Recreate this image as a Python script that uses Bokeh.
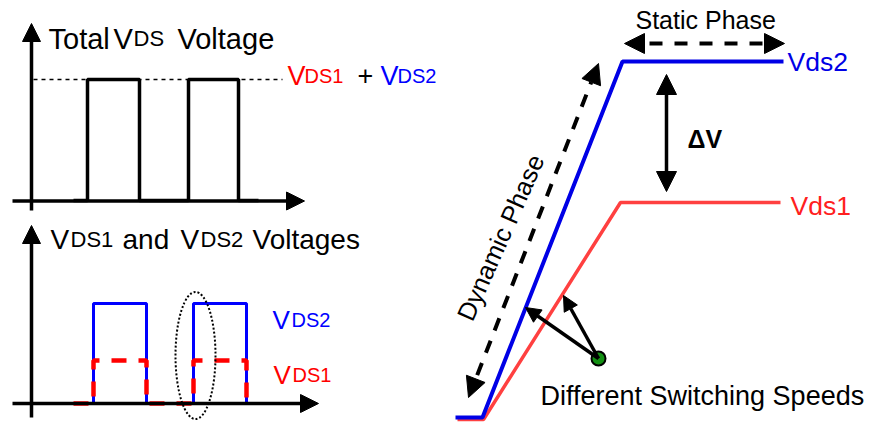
from bokeh.plotting import figure
from bokeh.models import Range1d, Arrow, NormalHead
from bokeh.core.properties import value
from bokeh.embed import file_html
from bokeh.resources import INLINE

FONT = value("Liberation Sans")

# ---------------- data (schematic coordinates) ----------------
# Panel 1: total VDS waveform
total_t = [73, 87, 87, 139, 139, 188, 188, 238, 238, 258]
total_v = [200, 200, 79, 79, 200, 200, 79, 79, 200, 200]
sum_level_t = [33, 282]
sum_level_v = [79, 79]
# Panel 2: VDS1 and VDS2 waveforms
vds2_t = [93, 93, 146, 146, 193, 193, 246, 246]
vds2_v = [403, 303, 303, 403, 403, 303, 303, 403]
vds1_t = [73, 93, 93, 146, 146, 193, 193, 246, 246]
vds1_v = [403, 403, 360, 360, 403, 403, 360, 360, 403]
# Right panel: switching transients
sw2_t = [455, 482, 622, 783]
sw2_v = [417, 417, 61, 61]
sw1_t = [457, 483, 620, 780]
sw1_v = [419, 419, 202, 202]

# axes of the two left panels: (x0, y0, x1, y1)
axes_arrows = [
    (31, 210, 31, 23),
    (12, 200.5, 304, 200.5),
    (31, 417, 31, 225),
    (12, 403, 318, 403),
]

# ---------------- figure ----------------
W, H = 874, 423
p = figure(width=W, height=H, output_backend="svg", toolbar_location=None,
           x_range=Range1d(0, W), y_range=Range1d(H, 0),
           min_border=0, min_border_left=0, min_border_right=0,
           min_border_top=0, min_border_bottom=0)
p.axis.visible = False
p.grid.visible = False
p.outline_line_color = None
p.background_fill_color = "white"


def head(size=18):
    return NormalHead(size=size, fill_color="black", line_color="black", line_width=1)


for (x0, y0, x1, y1) in axes_arrows:
    p.add_layout(Arrow(end=head(18), x_start=x0, y_start=y0, x_end=x1, y_end=y1,
                       line_width=3.5, line_color="black"))

# Panel 1
p.line(sum_level_t, sum_level_v, line_color="black", line_width=1.5, line_dash="4 4")
p.line(total_t, total_v, line_color="black", line_width=3.5)

# Panel 2
p.line(vds2_t, vds2_v, line_color="#0000FF", line_width=3)
p.line(vds1_t, vds1_v, line_color="#FF0000", line_width=4.5, line_dash="15 12")
p.ellipse(x=[195], y=[355], width=40, height=127, fill_color=None,
          line_color="black", line_width=2, line_dash="2 2")

# Right panel
p.line(sw1_t, sw1_v, line_color="#FF4040", line_width=3.5)
p.line(sw2_t, sw2_v, line_color="#0000E6", line_width=4)

# static phase double arrow
p.add_layout(Arrow(start=head(20), end=head(20), x_start=624, y_start=43, x_end=784, y_end=43,
                   line_width=4, line_color="black", line_dash="13 12"))
# dynamic phase double arrow
p.add_layout(Arrow(start=head(20), end=head(20), x_start=468, y_start=397, x_end=598, y_end=63,
                   line_width=4, line_color="black", line_dash="13 11"))
# delta V arrow
p.add_layout(Arrow(start=head(20), end=head(20), x_start=666, y_start=74, x_end=666, y_end=191,
                   line_width=3.5, line_color="black"))
# pointers from the dot
p.add_layout(Arrow(end=head(15), x_start=598, y_start=358, x_end=525, y_end=307,
                   line_width=3.5, line_color="black"))
p.add_layout(Arrow(end=head(15), x_start=598, y_start=358, x_end=563, y_end=295,
                   line_width=3.5, line_color="black"))
p.scatter(x=[598], y=[358], size=14, fill_color="#139013", line_color="black", line_width=2)

SHIFT = 8  # correction for where the alphabetic baseline lands


def txt(x, y, s, size, color="black", style="normal", **kw):
    base = kw.pop("baseline", "alphabetic")
    if base == "alphabetic":
        y = y - SHIFT
    p.text(x=[x], y=[y], text=[s], text_font=FONT, text_font_size=f"{size}px",
           text_color=color, text_baseline=base,
           text_align=kw.pop("align", "left"), text_font_style=style, **kw)


# Panel 1 title
txt(48, 46, "Total", 29)
txt(113, 46, "V", 29)
txt(133, 46, "DS", 22)
txt(177, 46, "Voltage", 29)
# sum label
txt(287, 83, "V", 27, "#FF0000")
txt(304, 83, "DS1", 20, "#FF0000")
txt(357, 83, "+", 27)
txt(380, 83, "V", 27, "#0000FF")
txt(397, 83, "DS2", 20, "#0000FF")
# Panel 2 title
txt(50, 247, "V", 28)
txt(70, 247, "DS1", 22)
txt(122, 247, "and", 28)
txt(180, 247, "V", 28)
txt(200, 247, "DS2", 22)
txt(252, 247, "Voltages", 28)
# Panel 2 labels
txt(272, 327, "V", 26, "#0000FF")
txt(291, 327, "DS2", 20, "#0000FF")
txt(273, 382, "V", 26, "#FF0000")
txt(292, 382, "DS1", 20, "#FF0000")
# Right panel texts
txt(635, 27, "Static Phase", 25)
txt(787, 69, "Vds2", 26.5, "#0000E6")
txt(790, 213, "Vds1", 26.5, "#FF2020")
txt(687, 146, "ΔV", 25, style="bold")
txt(540, 403, "Different Switching Speeds", 27)
txt(500, 237, "Dynamic Phase", 25.5, baseline="middle", align="center",
    angle=66, angle_units="deg")

open("out.html", "w").write(file_html(p, INLINE))
